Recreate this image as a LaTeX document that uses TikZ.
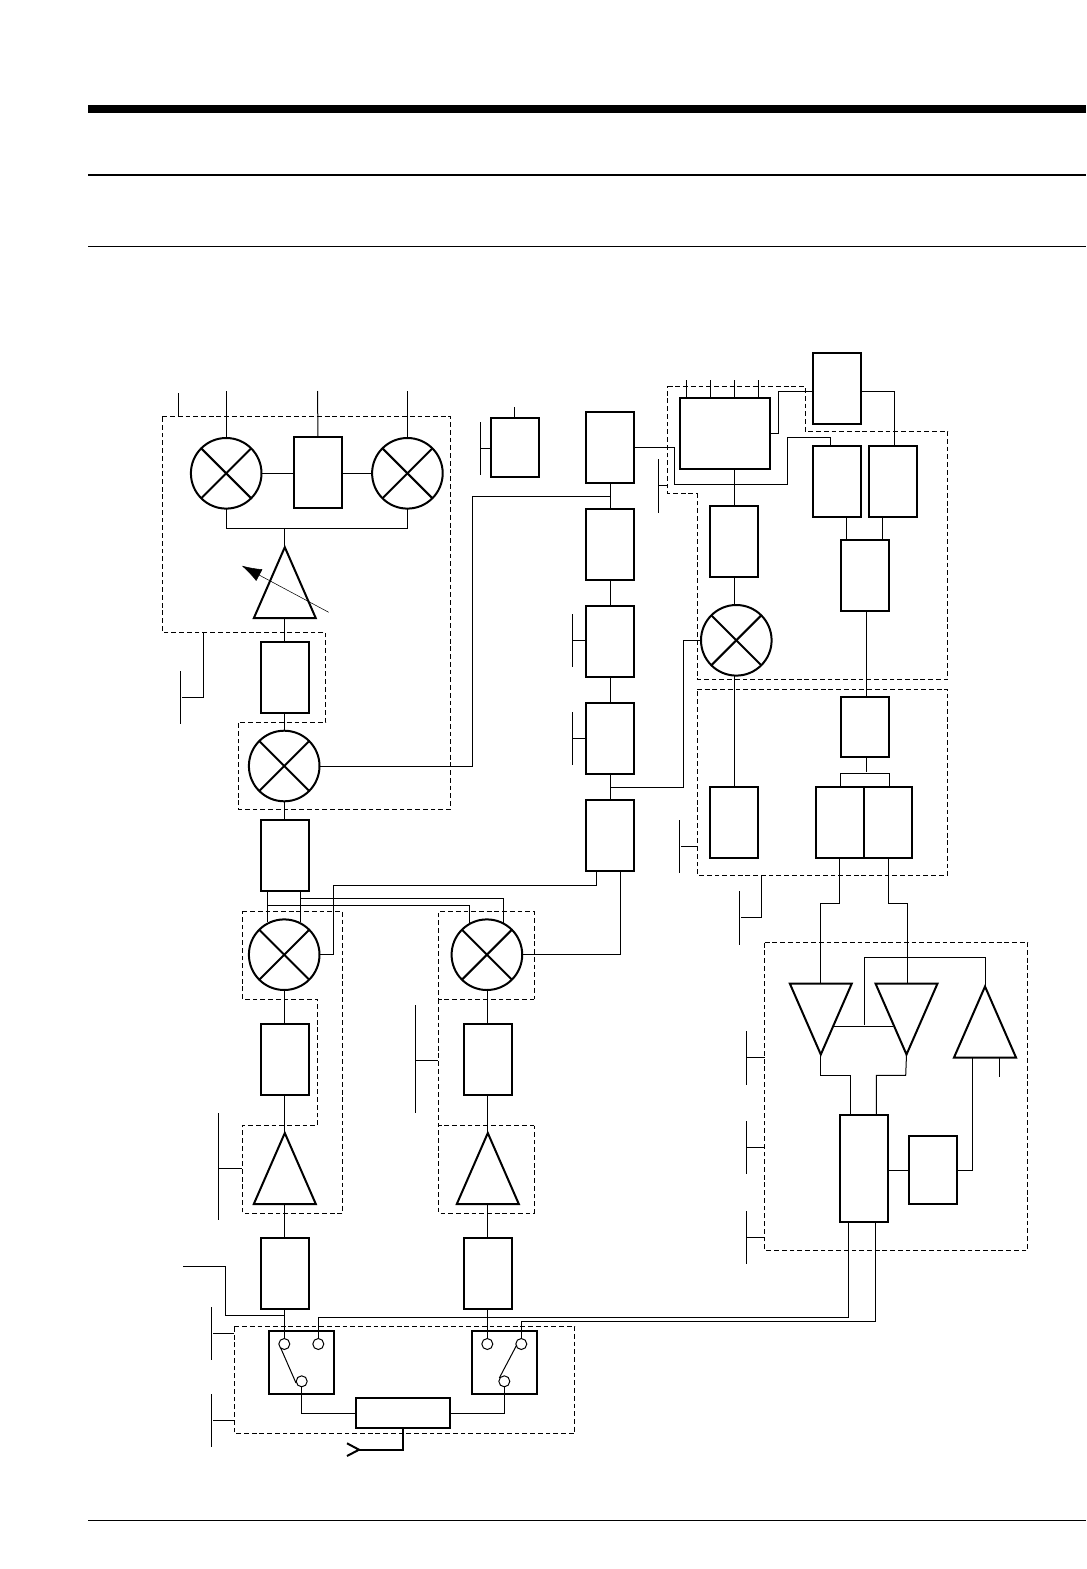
\documentclass[tikz,border=0pt]{standalone}
\usetikzlibrary{arrows.meta}
\tikzset{
  x=.75pt,y=-.75pt,
  thin line/.style={line width=.75pt,line join=miter},
  wire/.style={thin line},
  dashregion/.style={line width=.7pt,dash pattern=on 3.6pt off 2.2pt,line join=miter},
  rectbox/.style 2 args={draw,line width=1.5pt,rectangle,inner sep=0pt,outer sep=0pt,minimum width=#1*.75pt,minimum height=#2*.75pt},
  tall/.style={rectbox={48.5}{71.4}},
  trimark/.style={rectangle,inner sep=0pt,outer sep=0pt,minimum width=62*.75pt,minimum height=71*.75pt},
  tridraw/.style={line width=1.5pt,line join=miter,miter limit=4},
  mixer/.style={draw,circle,line width=1.5pt,inner sep=0pt,outer sep=0pt,minimum size=70.6*.75pt,
    path picture={
      \draw[line width=1.5pt] (path picture bounding box.north west)--(path picture bounding box.south east);
      \draw[line width=1.5pt] (path picture bounding box.north east)--(path picture bounding box.south west);}},
  contact/.style={draw,circle,line width=.75pt,fill=white,inner sep=0pt,outer sep=0pt,minimum size=11*.75pt},
}
\begin{document}
\begin{tikzpicture}
\path[fill=white,use as bounding box] (0,0) rectangle (1086,1569);
% page rules
\coordinate (h1a) at (88,109); \coordinate (h1b) at (1086,109);
\coordinate (h2a) at (88,175); \coordinate (h2b) at (1086,175);
\coordinate (h3a) at (88,246.5); \coordinate (h3b) at (1086,246.5);
\coordinate (h4a) at (88,1520); \coordinate (h4b) at (1086,1520);
\draw[line width=6pt] (h1a)--(h1b);
\draw[line width=1.5pt] (h2a)--(h2b);
\draw[line width=.75pt] (h3a)--(h3b);
\draw[line width=.75pt] (h4a)--(h4b);

% dashed regions
\draw[dashregion] (162.3,416.3)--(450.3,416.3)--(450.3,809.3)--(238.3,809.3)--(238.3,722.3)--(325.7,722.3)--(325.7,632.3)--(162.3,632.3)--cycle;
\draw[dashregion] (242.3,911.7)--(342.7,911.7)--(342.7,1213)--(242.3,1213)--(242.3,1125.7)--(317.3,1125.7)--(317.3,999.3)--(242.3,999.3)--cycle;
\draw[dashregion] (534.3,999.3)--(438.3,999.3)--(438.3,911.7)--(534.3,911.7)--cycle;
\draw[dashregion] (534.3,1125.7)--(438.3,1125.7)--(438.3,1213)--(534.3,1213)--cycle;
\draw[dashregion] (438.3,999.3)--(438.3,1125.7);
\draw[dashregion] (234.3,1326.3)--(574.7,1326.3)--(574.7,1433.3)--(234.3,1433.3)--cycle;
\draw[dashregion] (667.7,386.3)--(805,386.3)--(805,431.3)--(947.7,431.3)--(947.7,679.3)--(697,679.3)--(697,493.7)--(667.7,493.7)--cycle;
\draw[dashregion] (697,689)--(947.7,689)--(947.7,875)--(697,875)--cycle;
\draw[dashregion] (764.7,942.3)--(1027.7,942.3)--(1027.7,1250.3)--(764.7,1250.3)--cycle;

% left chain
\node[mixer] (m1) at (226.2,473.3) {};
\node[rectbox={48}{71}] (r1) at (318,472.5) {};
\node[mixer] (m2) at (407.4,473.3) {};
\node[trimark] (t1) at (284.8,582.7) {};
\node[tall] (r2) at (284.8,677.5) {};
\node[mixer] (m3) at (284.2,766) {};
\node[tall] (r3) at (284.8,855.3) {};
\node[mixer] (m4) at (284.2,954.7) {};
\node[tall] (r4) at (284.8,1059.3) {};
\node[trimark] (t2) at (284.8,1168.5) {};
\node[tall] (r5) at (284.8,1273.3) {};
\node[mixer] (m5) at (486.9,954.7) {};
\node[tall] (r6) at (487.8,1059.3) {};
\node[trimark] (t3) at (487.8,1168.5) {};
\node[tall] (r7) at (487.8,1273.3) {};
\node[rectbox={65.6}{63.3}] (s1) at (301.5,1362.3) {};
\node[rectbox={65.3}{63.3}] (s2) at (504.3,1362.3) {};
\node[contact] (s1a) at (284.3,1344) {};
\node[contact] (s1b) at (318.3,1344) {};
\node[contact] (s1c) at (301.7,1381.3) {};
\node[contact] (s2a) at (487.3,1344) {};
\node[contact] (s2b) at (521.3,1344) {};
\node[contact] (s2c) at (504.3,1381.3) {};
\node[rectbox={94.6}{30}] (dup) at (403,1413) {};
\foreach \t in {t1,t2,t3}{\draw[tridraw] (\t.north)--(\t.south west)--(\t.south east)--cycle;}

% upper middle
\node[rectbox={48.3}{58.7}] (lo) at (514.8,447.3) {};
\node[tall] (c1) at (610,447.3) {};
\node[tall] (c2) at (610,544.3) {};
\node[tall] (c3) at (610,641.5) {};
\node[tall] (c4) at (610,738.5) {};
\node[tall] (c5) at (610,835.5) {};

% upper right
\node[rectbox={90.6}{71.3}] (b1) at (725,433.3) {};
\node[tall] (b2) at (837,388.3) {};
\node[tall] (b3) at (837,481.5) {};
\node[tall] (b4) at (893,481.5) {};
\node[tall] (b5) at (865,575.3) {};
\node[tall] (b6) at (734,541.3) {};
\node[mixer] (m6) at (736.3,640.3) {};
\node[tall] (b7) at (734,822.6) {};
\node[rectbox={48.5}{60.3}] (b8) at (865,726.8) {};
\node[rectbox={48.3}{71.4}] (b9) at (840.1,822.6) {};
\node[rectbox={48}{71.4}] (b10) at (888.3,822.6) {};

% lower right
\node[trimark] (td1) at (820.8,1019) {};
\node[trimark] (td2) at (906.5,1019) {};
\node[trimark] (tu) at (985,1022) {};
\node[rectbox={48.3}{107.3}] (e1) at (863.8,1168.3) {};
\node[rectbox={48.3}{68}] (e2) at (933.1,1170) {};
\foreach \t in {td1,td2}{\draw[tridraw] (\t.south)--(\t.north west)--(\t.north east)--cycle;}
\draw[tridraw] (tu.north)--(tu.south west)--(tu.south east)--cycle;

% free ends
\coordinate (in0a) at (178.3,393);   \coordinate (in0b) at (178.3,416.3);
\coordinate (in1) at (226.2,391); \coordinate (in2) at (317.5,391); \coordinate (in3) at (407.4,391);
\coordinate (lotop) at (514.8,407);
\coordinate (rx) at (183,1266.3);
\coordinate (out) at (359,1449.7);

% wires left
\draw[wire] (in0a)--(in0b);
\draw[wire] (in1)--(m1.north);
\draw[wire] (in2)--(r1.north);
\draw[wire] (in3)--(m2.north);
\draw[wire] (m1.east)--(r1.west |- m1.east);
\draw[wire] (r1.east |- m2.west)--(m2.west);
\draw[wire] (m1.south)--(226.2,528.3)--(407.4,528.3)--(m2.south);
\draw[wire] (284.8,528.3)--(t1.north);
\draw[wire] (t1.south)--(r2.north);
\draw[wire] (r2.south)--(r2.south |- m3.north);
\draw[wire] (r3.north |- m3.south)--(r3.north);
\draw[wire] (m3.east)--(472.3,766)--(472.3,496.3)--(610,496.3);
\draw[wire] (267.7,891)--(267.7,921.7);
\draw[wire] (300.3,891)--(300.3,921.7);
\draw[wire] (300.3,898.3)--(503.3,898.3)--(503.3,922.7);
\draw[wire] (267.7,905.3)--(469.7,905.3)--(469.7,922.7);
\draw[wire] (r4.north |- m4.south)--(r4.north);
\draw[wire] (r4.south)--(t2.north);
\draw[wire] (t2.south)--(r5.north);
\draw[wire] (r6.north |- m5.south)--(r6.north);
\draw[wire] (r6.south)--(t3.north);
\draw[wire] (t3.south)--(r7.north);
\draw[wire] (r5.south)--(r5.south |- s1a.north);
\draw[wire] (r7.south)--(r7.south |- s2a.north);
\draw[wire] (rx)--(225.3,1266.3)--(225.3,1315.3)--(284.8,1315.3);
\draw[wire] (s1b.north)--(318.3,1317.3)--(848.3,1317.3)--(848.3,0 |- e1.south);
\draw[wire] (s2b.north)--(521.3,1321.7)--(875.3,1321.7)--(875.3,0 |- e1.south);
\draw[wire] (s1c.south)--(301.7,1413)--(dup.west);
\draw[wire] (s2c.south)--(504.3,1413)--(dup.east);
\draw[wire] (280.5,1347.5)--(296,1383);
\draw[wire] (516.7,1345)--(499.3,1378);
\draw[line width=1.5pt,line join=miter] (dup.south)--(403,1449.7)--(out);
\draw[line width=1.5pt] (347,1443.3)--(out)--(347,1456);
\draw[line width=.4pt,-{Latex[length=15pt,width=10pt]}] (328.7,612.3)--(241.7,565.7);
\draw[wire] (lotop)--(lo.north);

% column
\draw[wire] (c1.south)--(c2.north);
\draw[wire] (c2.south)--(c3.north);
\draw[wire] (c3.south)--(c4.north);
\draw[wire] (c4.south)--(c5.north);
\draw[wire] (596.3,0 |- c5.south)--(596.3,885.3)--(333.7,885.3)--(333.7,0 |- m4.east)--(m4.east);
\draw[wire] (620.3,0 |- c5.south)--(620.3,0 |- m5.east)--(m5.east);
\draw[wire] (m6.west)--(683.3,0 |- m6.west)--(683.3,787.3)--(610.7,787.3);
\draw[wire] (c1.east)--(674.3,447.3)--(674.3,484.3)--(787.3,484.3)--(787.3,437.7)--(830.3,437.7)--(830.3,0 |- b3.north);
\draw[wire] (b1.east)--(778.7,433.3)--(778.7,391.3)--(b2.west |- 0,391.3);
\draw[wire] (b2.east |- 0,391.3)--(894.3,391.3)--(894.3,0 |- b4.north);
\foreach \sx in {686.3,710.3,734.3,758.3}{\draw[wire] (\sx,380)--(\sx,0 |- b1.north);}
\draw[wire] (b6.north |- b1.south)--(b6.north);
\draw[wire] (b6.south)--(b6.south |- m6.north);
\draw[wire] (734,675)--(b7.north);
\draw[wire] (846.3,0 |- b3.south)--(846.3,0 |- b5.north);
\draw[wire] (882.3,0 |- b4.south)--(882.3,0 |- b5.north);
\draw[wire] (866.3,0 |- b5.south)--(866.3,0 |- b8.north);
\draw[wire] (866.3,0 |- b8.south)--(866.3,771.7);
\draw[wire] (840.3,0 |- b9.north)--(840.3,773.7)--(889.3,773.7)--(889.3,0 |- b10.north);
\draw[wire] (839.3,0 |- b9.south)--(839.3,903.3)--(820.3,903.3)--(820.3,0 |- td1.north);
\draw[wire] (888.3,0 |- b10.south)--(888.3,903.3)--(907.3,903.3)--(907.3,0 |- td2.north);
\draw[wire] (864.3,1025)--(864.3,957.3)--(985.3,957.3)--(985.3,0 |- tu.north);
\draw[wire] (834.3,1026.3)--(893.3,1026.3);
\draw[wire] (td1.south)--(820.8,1075.3)--(850.7,1075.3)--(850.7,0 |- e1.north);
\draw[wire] (td2.south)--(905.7,1075.3)--(876.3,1075.3)--(876.3,0 |- e1.north);
\draw[wire] (e1.east |- e2.west)--(e2.west);
\draw[wire] (e2.east)--(972.3,1170)--(972.3,0 |- tu.south);
\draw[wire] (999.3,0 |- tu.south)--(999.3,1076.7);

% marker ticks
\draw[wire] (203.3,632.3)--(203.3,697.3)--(182,697.3);
\draw[wire] (180.3,671)--(180.3,723.7);
\draw[wire] (211.3,1307.3)--(211.3,1360.3); \draw[wire] (213,1333.3)--(234.3,1333.3);
\draw[wire] (211.3,1394)--(211.3,1446.7); \draw[wire] (213,1420.3)--(234.3,1420.3);
\draw[wire] (218.3,1113)--(218.3,1220); \draw[wire] (218.3,1168)--(242.3,1168);
\draw[wire] (415.7,1005)--(415.7,1112.7); \draw[wire] (415.7,1060.3)--(438.3,1060.3);
\draw[wire] (480.3,422)--(480.3,474.7); \draw[wire] (480.3,448.3)--(lo.west |- 0,448.3);
\draw[wire] (572.3,614.3)--(572.3,666.7); \draw[wire] (572.3,640.3)--(c3.west |- 0,640.3);
\draw[wire] (572.3,712.3)--(572.3,764.7); \draw[wire] (572.3,738.3)--(c4.west |- 0,738.3);
\draw[wire] (658.3,459.3)--(658.3,512.7); \draw[wire] (658.3,485.3)--(667.7,485.3);
\draw[wire] (679.3,820.3)--(679.3,873.3); \draw[wire] (681,846.3)--(697,846.3);
\draw[wire] (761.7,875)--(761.7,917.3)--(741,917.3);
\draw[wire] (739.3,891)--(739.3,944.7);
\draw[wire] (746.3,1031.3)--(746.3,1084.7); \draw[wire] (746.3,1057.3)--(764.7,1057.3);
\draw[wire] (746.3,1121)--(746.3,1174.3); \draw[wire] (746.3,1147.3)--(764.7,1147.3);
\draw[wire] (746.3,1211)--(746.3,1264.3); \draw[wire] (746.3,1237.3)--(764.7,1237.3);
\end{tikzpicture}
\end{document}
